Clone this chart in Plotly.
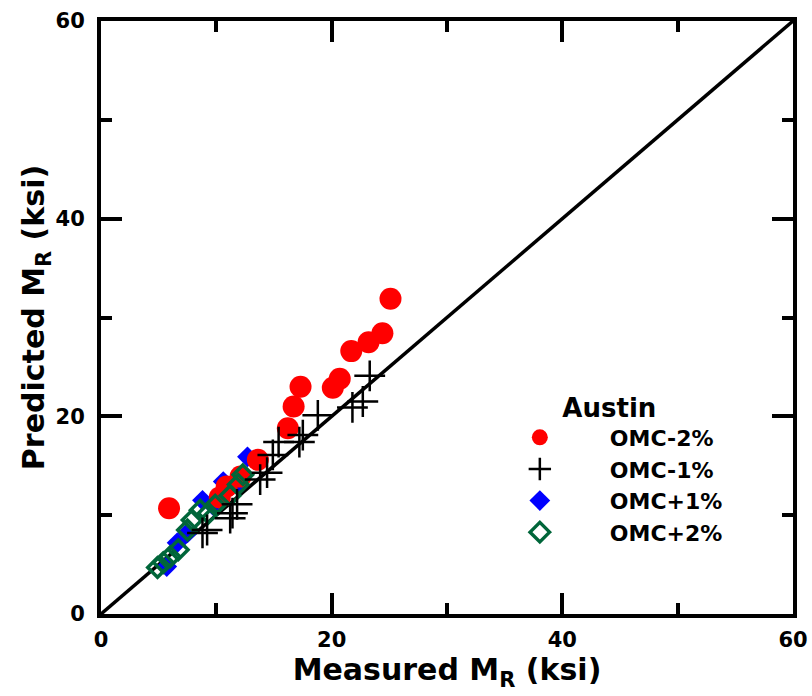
import plotly.graph_objects as go

# Measured vs predicted resilient modulus (ksi), Austin soil
omc_m2_measured = [5.9, 10.3, 10.9, 12.1, 13.6, 16.2, 16.7, 17.3, 20.1, 20.7, 21.7, 23.2, 24.4, 25.1]
omc_m2_predicted = [10.7, 11.8, 12.9, 13.9, 15.6, 18.8, 21.0, 23.0, 22.9, 23.8, 26.6, 27.5, 28.4, 31.9]

omc_m1_measured = [23.3, 22.7, 21.8, 18.8, 17.5, 17.2, 15.4, 14.9, 14.4, 13.8, 11.8, 11.2, 9.2, 8.8, 11.4]
omc_m1_predicted = [24.1, 21.5, 20.9, 20.1, 18.1, 17.4, 17.4, 16.1, 14.3, 13.6, 11.1, 9.7, 8.5, 8.2, 10.2]

omc_p1_measured = [12.7, 10.6, 8.8, 7.5, 6.6, 5.7, 11.9, 9.7]
omc_p1_predicted = [15.9, 13.4, 11.5, 8.2, 7.2, 4.8, 13.1, 11.0]

omc_p2_measured = [12.3, 11.9, 11.2, 9.9, 9.3, 8.6, 7.9, 7.5, 6.7, 6.0, 5.4, 4.9]
omc_p2_predicted = [14.1, 13.1, 12.0, 11.0, 10.2, 10.5, 9.5, 8.5, 6.5, 5.8, 5.2, 4.7]

equality_line = [0, 60]
tick_values = [0, 20, 40, 60]

FONT = "DejaVu Sans"
GREEN = "#00663A"

fig = go.Figure()

# line of equality
fig.add_trace(go.Scatter(
    x=equality_line, y=equality_line, mode="lines",
    line=dict(color="black", width=3.5), showlegend=False, hoverinfo="skip",
))

fig.add_trace(go.Scatter(
    x=omc_p1_measured, y=omc_p1_predicted, mode="markers", name="OMC+1%",
    marker=dict(symbol="diamond", size=16, color="#0000FF"), legendrank=3,
))
fig.add_trace(go.Scatter(
    x=omc_m2_measured, y=omc_m2_predicted, mode="markers", name="OMC-2%",
    marker=dict(symbol="circle", size=22, color="#FF0000"), legendrank=1,
))
fig.add_trace(go.Scatter(
    x=omc_p2_measured, y=omc_p2_predicted, mode="markers", name="OMC+2%",
    marker=dict(symbol="diamond-open", size=15, color=GREEN,
                line=dict(color=GREEN, width=3.5)), legendrank=4,
))
fig.add_trace(go.Scatter(
    x=omc_m1_measured, y=omc_m1_predicted, mode="markers", name="OMC-1%",
    marker=dict(symbol="cross-thin", size=22, color="black",
                line=dict(color="black", width=2.5)), legendrank=2,
))

axis_common = dict(
    range=[0, 60], tickvals=tick_values, ticks="inside", ticklen=21, tickwidth=4,
    tickcolor="black", showline=True, linecolor="black", linewidth=4,
    mirror="allticks", showgrid=False, zeroline=False, automargin=False,
    tickfont=dict(family=FONT, size=21, color="black", weight="bold"),
    minor=dict(dtick=10, ticks="inside", ticklen=11, tickwidth=4, tickcolor="black", showgrid=False),
)

fig.update_xaxes(
    **axis_common,
    ticklabelstandoff=4,
    title=dict(text="Measured M<sub>R</sub> (ksi)", standoff=4,
               font=dict(family=FONT, size=30, color="black", weight="bold")),
)
fig.update_yaxes(
    **axis_common,
    ticklabelstandoff=8,
    title=dict(text="Predicted M<sub>R</sub> (ksi)", standoff=0,
               font=dict(family=FONT, size=30, color="black", weight="bold")),
)

fig.update_layout(
    width=812, height=696,
    margin=dict(l=101, r=19, t=21, b=82, autoexpand=False),
    paper_bgcolor="white", plot_bgcolor="white",
    legend=dict(
        x=0.533, y=0.39, xanchor="left", yanchor="top",
        bgcolor="rgba(0,0,0,0)", itemwidth=130, tracegroupgap=0,
        font=dict(family=FONT, size=22, color="black", weight="bold"),
        title=dict(text="\u00a0" * 10 + "Austin", side="top",
                   font=dict(family=FONT, size=26, color="black", weight="bold")),
    ),
)

fig.write_html("out.html")
